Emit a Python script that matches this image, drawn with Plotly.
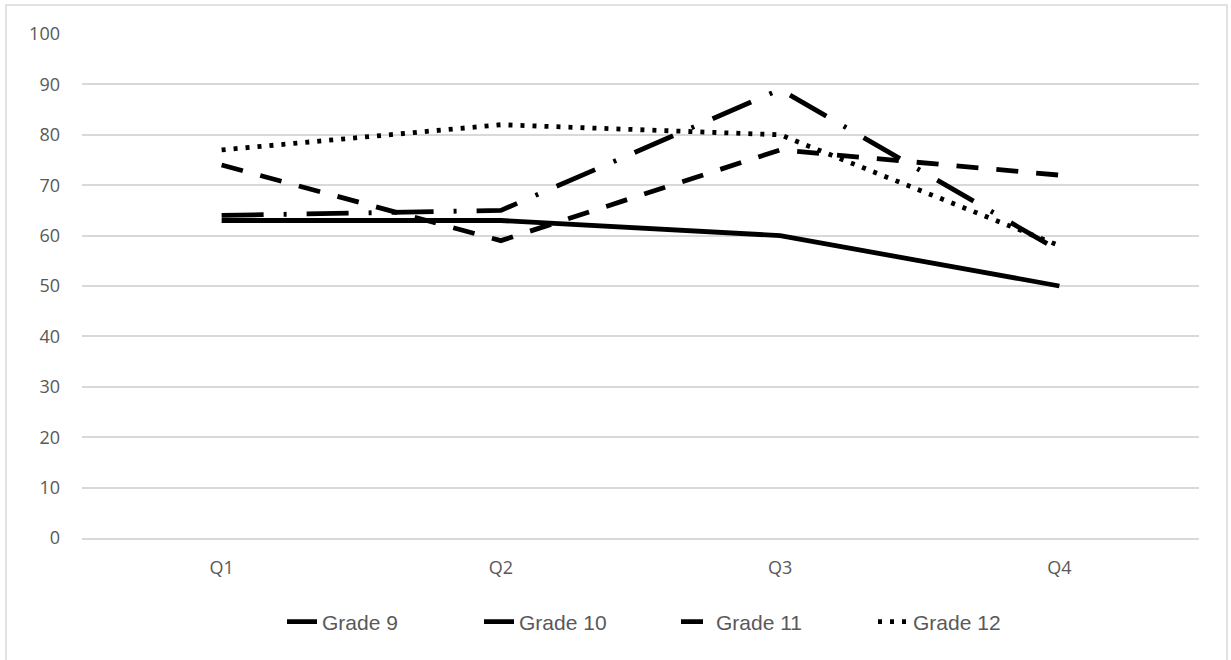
import plotly.graph_objects as go

quarters = ["Q1", "Q2", "Q3", "Q4"]
grade9 = [63, 63, 60, 50]
grade10 = [64, 65, 89, 57]
grade11 = [74, 59, 77, 72]
grade12 = [77, 82, 80, 58]
y_ticks = list(range(0, 101, 10))

series = [
    ("Grade 9", grade9, "solid"),
    ("Grade 10", grade10, "42px,20px,3px,20px"),
    ("Grade 11", grade11, "22px,18px"),
    ("Grade 12", grade12, "4px,8px"),
]

fig = go.Figure()
for name, vals, dash in series:
    fig.add_trace(go.Scatter(
        x=quarters, y=vals, name=name, mode="lines",
        line=dict(color="black", width=4.8, dash=dash),
    ))

W, H = 1231, 660
L, R, T, B = 82, 32, 34, 122
pw, ph = W - L - R, H - T - B

def px_to_paper_x(px):
    return (px - L) / pw

def px_to_paper_y(py):
    return (H - B - py) / ph

fig.add_shape(type="rect", xref="paper", yref="paper",
              x0=px_to_paper_x(6), x1=px_to_paper_x(1227),
              y0=px_to_paper_y(680), y1=px_to_paper_y(5),
              line=dict(color="#d9d9d9", width=1.5), fillcolor="rgba(0,0,0,0)", layer="below")

tick_font = dict(family="Open Sans, Liberation Sans, sans-serif", size=18, color="#595959")

fig.update_layout(
    width=W, height=H,
    margin=dict(l=L, r=R, t=T, b=B),
    paper_bgcolor="white", plot_bgcolor="white",
    font=tick_font,
    showlegend=True,
    legend=dict(orientation="h", x=px_to_paper_x(676), xanchor="center",
                y=px_to_paper_y(622), yanchor="middle",
                font=dict(family="Liberation Sans, Arial, sans-serif", size=21, color="#595959"),
                entrywidth=152, entrywidthmode="pixels", traceorder="normal"),
    xaxis=dict(showgrid=False, showline=True, linecolor="#d9d9d9", linewidth=1.5,
               range=[-0.5, 3.5], ticks="", tickfont=tick_font, zeroline=False,
               ticklabelstandoff=13),
    yaxis=dict(range=[0, 100], tickvals=y_ticks, showgrid=True, gridcolor="#d9d9d9", gridwidth=1.5,
               showline=False, zeroline=False, ticks="", ticklabelstandoff=21,
               tickfont=tick_font),
)

fig.write_html("out.html", config={"displayModeBar": False},
               post_script="document.body.style.margin='0';")
